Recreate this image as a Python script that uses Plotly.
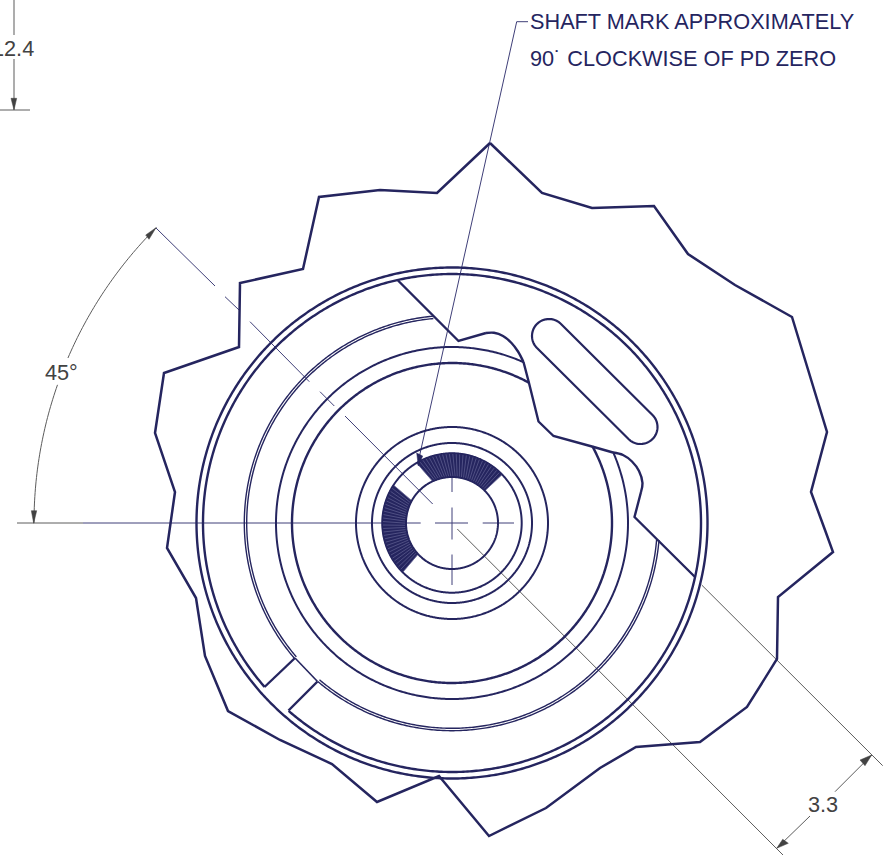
import numpy as np
import plotly.graph_objects as go

# centre of the part in picture units
CENTER = (452, 523)

NAVY = "#25255f"
THIN_NAVY = "#3f3f78"
GRAY = "#5c5c5c"
DARK = "#424242"

outline_x = [490, 542, 592, 654, 688, 735, 792, 827, 811, 825, 833, 778, 777, 747, 700, 636, 600, 546, 489, 439,
             377, 332, 280, 228, 205, 196, 167, 175, 155, 164, 239, 240, 303, 319, 380, 437, 490]
outline_y = [143, 193, 208, 206, 254, 285, 317, 432, 492, 530, 552, 597, 659, 707, 742, 747, 768, 808, 836, 776,
             802, 764, 740, 711, 656, 598, 548, 492, 433, 373, 347, 283, 269, 197, 190, 193, 143]

# radius, start angle, end angle (degrees, counter-clockwise from +x)
full_rings = [(255.5, 0, 360), (249, 229, 581.2)]
body_rings = [(176, 66, 383.8), (160, 61.2, 388.6)]
split_rings = [(207.7, 95.2, 220.7), (205.3, 95.2, 220.7), (207.7, 229.8, 355.3), (205.3, 229.8, 355.3)]
hub_rings = [(96, 0, 360), (80, 0, 360), (69.7, 0, 360), (46, 0, 360)]

cut_a_x = [398, 458.5, 486]
cut_a_y = [280.5, 341, 333]
nose_a_x = [486, 494, 503, 511.5, 518, 523.5]
nose_a_y = [333, 332.8, 336, 343, 351.5, 362]
cut_b_x = [523.5, 529, 538.5, 553.5, 592, 613]
cut_b_y = [362, 383, 421.5, 436, 446.5, 452.5]
nose_b_x = [613, 623, 632, 639, 642.5, 641]
nose_b_y = [452.5, 455, 461.5, 471, 483, 492]
cut_c_x = [641, 634.5, 695]
cut_c_y = [492, 517, 577]
gap_x = [295, 264.5, None, 317.5, 288.5]
gap_y = [658, 687, None, 681.5, 710.5]
gap_end_x = [295, 317.5]
gap_end_y = [658, 681.5]

slot_ends = [(549, 336), (640.5, 427)]
slot_radius = 17

center_x = [83, 420.7, None, 435, 468, None, 482.7, 514, None, 452, 452, None, 452, 452, None, 452, 452,
            None, 156, 215, None, 225, 239, None, 250, 309.3, None, 320, 334.3, None, 345, 432.7]
center_y = [523, 523, None, 523, 523, None, 523, 523, None, 477, 492, None, 507.5, 539.5, None, 554.5, 585,
            None, 228, 286, None, 296.7, 310, None, 321.7, 381.7, None, 391.7, 406, None, 416, 504]

leader_x = [528, 516.7, 419.5]
leader_y = [21.7, 21.7, 456]
leader_head_x = [418.3, 416.7, 422.7, 418.3]
leader_head_y = [466, 453, 456, 466]

# hatched sectors: start / end angle at outer radius, at inner radius
sectors = [(44, 120.5, 44.4, 115), (147, 225, 151, 222.6)]

ext_x = [17, 83, None, 457.3, 783, None, 701.7, 882.7, None, 0, 30]
ext_y = [523, 523, None, 529, 855, None, 585, 765.7, None, 110, 110]
dim_x = [835, 871.7, None, 810, 776.7]
dim_y = [791.7, 755, None, 816, 848.3]
dim_v_x = [14, 14, None, 14, 14]
dim_v_y = [0, 35, None, 59, 110]
angle_arcs = [(418, 135, 156.75), (418, 160.7, 180)]
heads = [
    ([156, 145.7, 149, 156], [227.7, 235, 239.3, 227.7]),
    ([33.7, 31.3, 36.7, 33.7], [523.3, 510.7, 510.7, 523.3]),
    ([14, 11, 16.7, 14], [110, 98.3, 98.3, 110]),
    ([871.7, 860, 865, 871.7], [755, 760, 765.7, 755]),
    ([776.7, 782.7, 788.3, 776.7], [848.3, 839.3, 843.3, 848.3]),
]

labels = ["SHAFT MARK APPROXIMATELY", "90˙ CLOCKWISE OF PD ZERO", "45°", "3.3", "12.4"]
label_x = [528, 528, 61.7, 822.7, 36]
label_y = [21.7, 58.5, 372.5, 804, 48]
label_anchor = ["left", "left", "center", "center", "right"]
label_color = [NAVY, NAVY, DARK, DARK, DARK]


def arc(r, a0, a1):
    t = np.radians(np.linspace(a0, a1, max(12, int(abs(a1 - a0) * 2))))
    return list(CENTER[0] + r * np.cos(t)), list(CENTER[1] - r * np.sin(t))


def join(arcs):
    xs, ys = [], []
    for a in arcs:
        x, y = arc(*a)
        xs += x + [None]
        ys += y + [None]
    return xs, ys


fig = go.Figure()


def line(x, y, color=NAVY, width=2.0, shape="linear"):
    fig.add_trace(go.Scatter(x=x, y=y, mode="lines", line=dict(color=color, width=width, simplify=False, shape=shape),
                             hoverinfo="skip", connectgaps=False))


def poly(x, y, color):
    fig.add_trace(go.Scatter(x=x, y=y, mode="lines", fill="toself", fillcolor=color,
                             line=dict(color=color, width=0.5), hoverinfo="skip"))


# dimensions and centre lines first, so the part lies over them
line(ext_x, ext_y, GRAY, 1.0)
line(dim_x, dim_y, GRAY, 1.0)
line(dim_v_x, dim_v_y, "#8a8a8a", 1.4)
line(*join(angle_arcs), GRAY, 1.0)
line(center_x, center_y, THIN_NAVY, 1.0)
line(leader_x, leader_y, THIN_NAVY, 1.0)

line(outline_x, outline_y, NAVY, 2.5)
line(*join(full_rings), NAVY, 2.4)
line(*join(body_rings[:1]), NAVY, 2.0)
line(*join(body_rings[1:]), NAVY, 2.4)
line(*join(split_rings), NAVY, 1.4)
line(*join(hub_rings), NAVY, 2.0)
line(cut_a_x, cut_a_y, NAVY, 2.4)
line(nose_a_x, nose_a_y, NAVY, 2.4, "spline")
line(cut_b_x, cut_b_y, NAVY, 2.4)
line(nose_b_x, nose_b_y, NAVY, 2.4, "spline")
line(cut_c_x, cut_c_y, NAVY, 2.4)
line(gap_x, gap_y, NAVY, 2.4)
line(gap_end_x, gap_end_y, NAVY, 1.6)

# slot: two half circles closed by their tangents
(ax, ay), (bx, by) = slot_ends
sa = np.degrees(np.arctan2(-(by - ay), bx - ax))
t = np.radians(np.linspace(sa + 90, sa + 270, 40))
sx = list(ax + slot_radius * np.cos(t))
sy = list(ay - slot_radius * np.sin(t))
t = np.radians(np.linspace(sa - 90, sa + 90, 40))
sx += list(bx + slot_radius * np.cos(t))
sy += list(by - slot_radius * np.sin(t))
line(sx + sx[:1], sy + sy[:1], NAVY, 2.2)

# hatched sectors
for o0, o1, i0, i1 in sectors:
    ox, oy = arc(70, o0, o1)
    ix, iy = arc(46, i1, i0)
    poly(ox + ix + ox[:1], oy + iy + oy[:1], NAVY)
    hx, hy = [], []
    for a, b in zip(np.linspace(i0, i1, 28), np.linspace(o0, o1, 28)):
        ra, rb = np.radians(a), np.radians(b)
        hx += [CENTER[0] + 47 * np.cos(ra), CENTER[0] + 69 * np.cos(rb), None]
        hy += [CENTER[1] - 47 * np.sin(ra), CENTER[1] - 69 * np.sin(rb), None]
    line(hx, hy, "#8484b0", 0.45)

poly(leader_head_x, leader_head_y, NAVY)
for hx, hy in heads:
    poly(hx, hy, DARK)

annotations = [
    dict(x=x, y=y, text=s, showarrow=False, xanchor=a, yanchor="middle",
         font=dict(family="Liberation Sans", size=21.7, color=c), xref="x", yref="y")
    for s, x, y, a, c in zip(labels, label_x, label_y, label_anchor, label_color)
]

fig.update_layout(
    width=890, height=855, margin=dict(l=0, r=0, t=0, b=0), showlegend=False,
    paper_bgcolor="white", plot_bgcolor="white", annotations=annotations,
    xaxis=dict(range=[0, 890], visible=False, fixedrange=True),
    yaxis=dict(range=[855, 0], visible=False, fixedrange=True),
    hovermode=False,
)
fig.write_html("out.html", config={"displayModeBar": False},
               post_script="document.body.style.margin='0';")
